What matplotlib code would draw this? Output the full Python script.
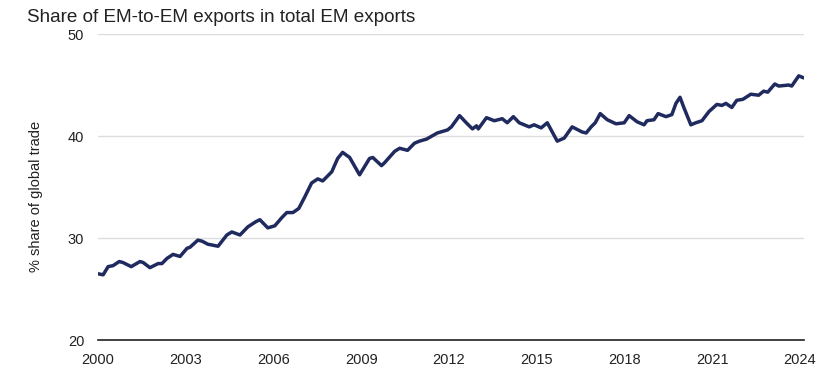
import matplotlib
matplotlib.use("Agg")
import matplotlib.pyplot as plt

plt.rcParams['font.family'] = ['Liberation Sans', 'DejaVu Sans']

# Datos (año decimal, % del comercio)
years = [2000.00, 2000.17, 2000.34, 2000.51, 2000.72, 2000.85, 2001.13, 2001.43, 2001.54, 2001.77,
         2002.05, 2002.18, 2002.35, 2002.56, 2002.80, 2003.04, 2003.14, 2003.41, 2003.55, 2003.75,
         2004.10, 2004.40, 2004.57, 2004.85, 2005.12, 2005.39, 2005.53, 2005.80, 2006.04, 2006.28,
         2006.45, 2006.66, 2006.86, 2007.06, 2007.30, 2007.51, 2007.68, 2007.99, 2008.19, 2008.36,
         2008.60, 2008.94, 2009.28, 2009.39, 2009.69, 2009.80, 2010.14, 2010.31, 2010.58, 2010.82,
         2010.99, 2011.23, 2011.60, 2011.95, 2012.08, 2012.36, 2012.59, 2012.80, 2012.94, 2013.00,
         2013.28, 2013.55, 2013.82, 2013.99, 2014.20, 2014.40, 2014.74, 2014.91, 2015.15, 2015.36,
         2015.70, 2015.94, 2016.21, 2016.55, 2016.69, 2016.86, 2017.00, 2017.17, 2017.41, 2017.71,
         2017.99, 2018.16, 2018.43, 2018.67, 2018.77, 2019.01, 2019.15, 2019.42, 2019.62, 2019.76,
         2019.90, 2020.03, 2020.27, 2020.44, 2020.65, 2020.89, 2021.16, 2021.33, 2021.47, 2021.67,
         2021.84, 2022.05, 2022.32, 2022.59, 2022.76, 2022.90, 2023.14, 2023.28, 2023.62, 2023.72,
         2023.96, 2024.13]
share = [26.5, 26.4, 27.2, 27.3, 27.7, 27.6, 27.2, 27.7, 27.6, 27.1,
         27.5, 27.5, 28.0, 28.4, 28.2, 29.0, 29.1, 29.8, 29.7, 29.4,
         29.2, 30.3, 30.6, 30.3, 31.1, 31.6, 31.8, 31.0, 31.2, 32.0,
         32.5, 32.5, 32.9, 34.0, 35.4, 35.8, 35.6, 36.5, 37.8, 38.4,
         37.9, 36.2, 37.8, 37.9, 37.1, 37.4, 38.5, 38.8, 38.6, 39.3,
         39.5, 39.7, 40.3, 40.6, 40.9, 42.0, 41.3, 40.7, 41.0, 40.7,
         41.8, 41.5, 41.7, 41.3, 41.9, 41.3, 40.9, 41.1, 40.8, 41.3,
         39.5, 39.8, 40.9, 40.4, 40.3, 40.9, 41.3, 42.2, 41.6, 41.2,
         41.3, 42.0, 41.4, 41.1, 41.5, 41.6, 42.2, 41.9, 42.1, 43.2,
         43.8, 42.8, 41.1, 41.3, 41.5, 42.4, 43.1, 43.0, 43.2, 42.8,
         43.5, 43.6, 44.1, 44.0, 44.4, 44.3, 45.1, 44.9, 45.0, 44.9,
         45.9, 45.7]

xticks = [2000, 2003, 2006, 2009, 2012, 2015, 2018, 2021, 2024]
yticks = [20, 30, 40, 50]

fig = plt.figure(figsize=(8.32, 3.8), dpi=100)
ax = fig.add_axes([0.118, 0.105, 0.848, 0.8055])

ax.plot(years, share, color='#1f2a5e', linewidth=2.5, solid_joinstyle='round', solid_capstyle='round')

ax.set_xlim(2000, 2024.13)
ax.set_ylim(20, 50)
ax.set_xticks(xticks)
ax.set_yticks(yticks)
ax.grid(axis='y', color='#dddddd', linewidth=1)
ax.set_axisbelow(True)
for s in ['top', 'right', 'left']:
    ax.spines[s].set_visible(False)
ax.spines['bottom'].set_color('#222222')
ax.spines['bottom'].set_linewidth(1.2)
ax.tick_params(length=0, labelsize=10.5, colors='#222222')
ax.tick_params(axis='x', pad=9)
ax.tick_params(axis='y', pad=10)

ax.set_ylabel('% share of global trade', fontsize=10.5, color='#222222', labelpad=16)
ax.yaxis.set_label_coords(-0.078, 0.47)
fig.text(0.033, 0.975, 'Share of EM-to-EM exports in total EM exports', fontsize=13.6,
         color='#222222', ha='left', va='top')

fig.savefig('out.png', dpi=100)
